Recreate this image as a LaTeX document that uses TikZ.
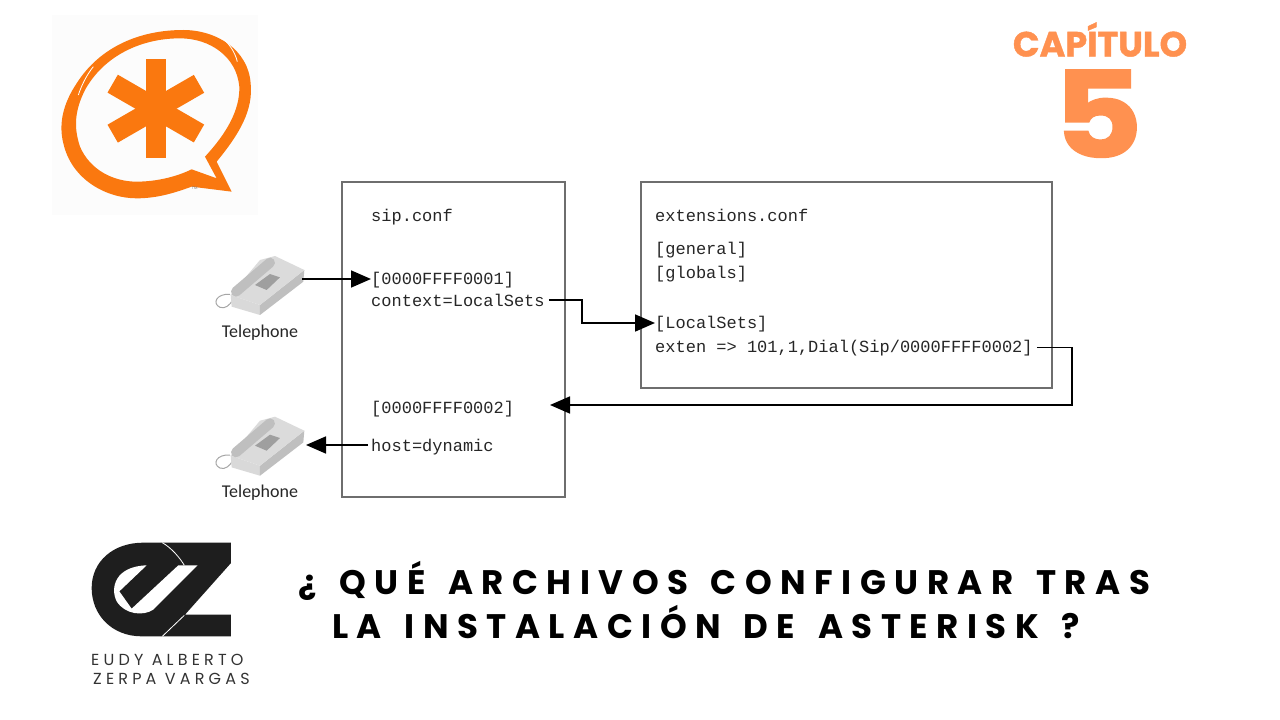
\documentclass[tikz,border=0pt]{standalone}
\usepackage{fontspec}
\setmonofont{Liberation Mono}
\newfontfamily\labelfont{Carlito}
\newfontfamily\headfont[BoldFeatures={FakeBold=1.2}]{Poppins}
\newfontfamily\titlefont[LetterSpace=25,WordSpace=1.45]{Poppins}
\newfontfamily\namefont[LetterSpace=26]{Poppins}
\usepackage{tikz}
\usetikzlibrary{arrows.meta,calc,positioning}
\definecolor{LogoOrange}{RGB}{250,120,15}
\definecolor{HeadOrange}{RGB}{255,145,80}
\definecolor{BoxGray}{RGB}{110,110,110}
\definecolor{InkBlack}{RGB}{30,30,30}

\begin{document}
\begin{tikzpicture} [x=1pt,y=-1pt,
       >={Triangle[length=20pt,width=17pt]}, line join=miter,
       confbox/.style = {draw=BoxGray, line width=1.6pt},
       conftext/.style = {anchor=base west, inner sep=0pt, text=black!85,
                          font=\ttfamily\fontsize{17}{20}\selectfont},
       phonelabel/.style = {inner sep=0pt, text=black!85,
                            font=\labelfont\fontsize{18}{22}\selectfont},
       link/.style = {->, black, line width=1.7pt},
       headline/.style = {anchor=base, inner sep=0pt, text=HeadOrange},
       titleline/.style = {anchor=base west, inner sep=0pt, text=black,
                           font=\titlefont\bfseries\fontsize{34}{40}\selectfont},
       authorline/.style = {anchor=base west, inner sep=0pt, text=black!80,
                            font=\namefont\fontsize{16}{18}\selectfont},
       telset/.pic = {
           \draw[gray!70, line width=1pt] (60,133) .. controls (20,130) and (5,160) .. (30,172)
               .. controls (45,178) and (60,165) .. (68,150);
           \fill[gray!30] (62,135) -- (150,165) -- (150,195) -- (65,170) -- cycle;
           \fill[gray!50] (150,165) -- (283,60) -- (280,95) -- (150,195) -- cycle;
           \fill[gray!28] (62,135) -- (150,30) -- (195,18) -- (283,60) -- (150,165) -- cycle;
           \draw[gray!50, line width=10pt, line cap=round] (78,125) -- (180,38);
           \fill[gray!75] (135,105) -- (180,72) -- (210,82) -- (170,120) -- cycle;
       }]

	%% Faint square behind the bubble
	\useasboundingbox (0,0) rectangle (1280,720);
	\fill[white] (0,0) rectangle (1280,720);
	\fill[black!1] (52,15) rectangle (258,215);

	%% Speech bubble with the star (drawn in crop units)
	\begin{scope}[shift={(40,10)},x=0.3333pt,y=-0.3333pt]
		\fill[LogoOrange,even odd rule] (575,545) -- (530,455)
			.. controls (600,370) and (640,300) .. (632,220)
			.. controls (625,120) and (530,60) .. (430,60)
			.. controls (300,60) and (180,110) .. (110,220)
			.. controls (70,280) and (55,340) .. (70,400)
			.. controls (95,510) and (200,565) .. (290,565)
			.. controls (350,565) and (400,550) .. (455,530) -- cycle
			(530,505) -- (495,440)
			.. controls (560,370) and (600,300) .. (598,230)
			.. controls (590,140) and (510,85) .. (420,85)
			.. controls (300,85) and (190,140) .. (135,240)
			.. controls (105,300) and (100,350) .. (120,410)
			.. controls (150,480) and (220,515) .. (290,515)
			.. controls (350,515) and (410,500) .. (455,478) -- cycle;
		\foreach \a in {0,60,120}
			{\fill[LogoOrange,rotate around={\a:(348,296)}] (317,146) rectangle (379,445);}
		\draw[white,line width=0.8pt] (535,75) .. controls (565,95) and (585,125) .. (592,155);
		\draw[white,line width=0.8pt] (160,170) .. controls (140,195) and (125,225) .. (115,255);
		\node[inner sep=0pt,text=black!50,font=\headfont\fontsize{4}{4}\selectfont] (trademark) at (464,534) {TM};
	\end{scope}

	%% Chapter heading
	\node[headline,font=\headfont\bfseries\fontsize{35}{36}\selectfont] (chapter) at (1100,56.5) {CAPÍTULO};
	\node[headline,xscale=1.15,transform shape,font=\headfont\bfseries\fontsize{120}{130}\selectfont] (number) at (1098,157.5) {5};

	%% The two files
	\node[confbox,minimum width=223pt,minimum height=315pt,inner sep=0pt] (sipbox) at (453.5,339.5) {};
	\node[confbox,minimum width=411pt,minimum height=206pt,inner sep=0pt] (extbox) at (846.5,285) {};

	\node[conftext] (sipname) at (371,221) {sip.conf};
	\node[conftext] (peerone) at (371,284) {[0000FFFF0001]};
	\node[conftext] (context) at (371,306) {context=LocalSets};
	\node[conftext] (peertwo) at (371,413) {[0000FFFF0002]};
	\node[conftext] (hostline) at (371,451) {host=dynamic};

	\node[conftext] (extname) at (655,221) {extensions.conf};
	\node[conftext] (general) at (655,254) {[general]};
	\node[conftext] (globals) at (655,278) {[globals]};
	\node[conftext] (localsets) at (655,328) {[LocalSets]};
	\node[conftext] (dialline) at (655,352) {exten => 101,1,Dial(Sip/0000FFFF0002]};

	%% Telephones
	\pic[scale=0.3333] at (210,250) {telset};
	\pic[scale=0.3333] at (210,410.7) {telset};
	\node[phonelabel] (telone) at (260,333) {Telephone};
	\node[phonelabel] (teltwo) at (260,493) {Telephone};
	\coordinate (phoneone) at (302,279);
	\coordinate (phonetwo) at (306,445);

	%% Connectors
	\draw[link] (phoneone) -- (peerone.west |- phoneone);
	\draw[link] ($(context.east)+(4,0)$) -| (582,323) -- (localsets.west |- 0,323);
	\draw[link] ($(dialline.east)+(4,0)$) -| (1072,405) -- (550,405);
	\draw[link] ($(hostline.west |- phonetwo)+(-3,0)$) -- (phonetwo);

	%% Author mark (crop units)
	\begin{scope}[shift={(85,538)},x=0.3333pt,y=-0.3333pt]
		\fill[InkBlack] (175,14) -- (438,14) -- (438,75) -- (300,230) -- (438,230) -- (438,295) -- (170,295)
			.. controls (80,295) and (20,230) .. (20,150)
			.. controls (20,70) and (85,14) .. (175,14) -- cycle;
		\fill[white] (338,82) -- (205,215)
			.. controls (175,235) and (120,230) .. (95,190)
			.. controls (75,150) and (90,85) .. (185,82)
			-- (103,160) -- (140,212) -- (280,82) -- cycle;
		\draw[white,line width=0.8pt] (232,14) .. controls (260,30) and (285,60) .. (298,82);
		\draw[white,line width=0.8pt] (298,232) -- (232,295);
	\end{scope}
	\node[authorline] (firstname) at (91,665) {EUDY ALBERTO};
	\node[authorline] (lastname) at (93,684) {ZERPA VARGAS};

	%% Title
	\node[titleline] (titleone) at (298,594) {¿ QUÉ ARCHIVOS CONFIGURAR TRAS};
	\node[titleline] (titletwo) at (332,638) {LA INSTALACIÓN DE ASTERISK ?};
\end{tikzpicture}
\end{document}
